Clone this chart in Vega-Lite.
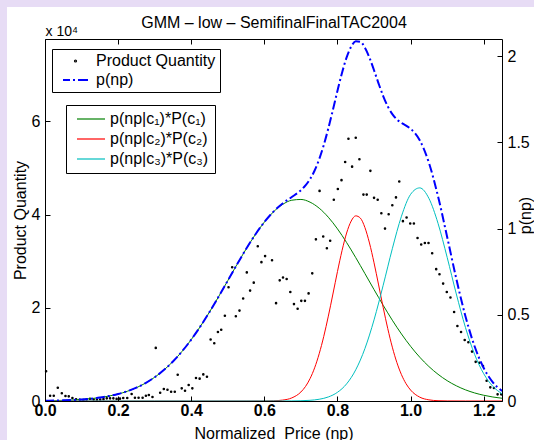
{
  "$schema": "https://vega.github.io/schema/vega-lite/v6.json",
  "width": 457,
  "height": 362,
  "autosize": {"type": "none"},
  "padding": {"left": 45, "top": 39, "right": 32, "bottom": 39},
  "background": "#e7dcf5",
  "config": {
    "font": "Liberation Sans",
    "view": {"stroke": null},
    "axis": {
      "zindex": 1, "grid": false, "domainColor": "black", "domainWidth": 1, "tickColor": "black", "tickWidth": 1,
      "tickSize": -5, "labelColor": "black", "titleColor": "black", "labelFontSize": 16, "titleFontSize": 16,
      "titleFontWeight": "normal", "labelFlush": false, "labelOverlap": false
    },
    "legend": {"labelFontSize": 16, "labelColor": "black", "labelLimit": 0}
  },
  "datasets": {
    "scatter": [
      {"np": 0.003, "qty": 6400}, {"np": 0.014, "qty": 1130}, {"np": 0.024, "qty": 1130}, {"np": 0.035, "qty": 2850},
      {"np": 0.046, "qty": 1650}, {"np": 0.056, "qty": 1070}, {"np": 0.065, "qty": 1000}, {"np": 0.075, "qty": 640},
      {"np": 0.085, "qty": 350}, {"np": 0.095, "qty": 250}, {"np": 0.105, "qty": 200}, {"np": 0.114, "qty": 300},
      {"np": 0.123, "qty": 490}, {"np": 0.133, "qty": 300}, {"np": 0.142, "qty": 250}, {"np": 0.151, "qty": 300},
      {"np": 0.16, "qty": 400}, {"np": 0.169, "qty": 570}, {"np": 0.178, "qty": 570}, {"np": 0.187, "qty": 570},
      {"np": 0.196, "qty": 450}, {"np": 0.205, "qty": 500}, {"np": 0.214, "qty": 640}, {"np": 0.225, "qty": 640},
      {"np": 0.237, "qty": 1500}, {"np": 0.246, "qty": 710}, {"np": 0.256, "qty": 710}, {"np": 0.267, "qty": 710},
      {"np": 0.276, "qty": 1140}, {"np": 0.284, "qty": 1280}, {"np": 0.294, "qty": 860}, {"np": 0.303, "qty": 11400},
      {"np": 0.315, "qty": 1780}, {"np": 0.325, "qty": 2570}, {"np": 0.335, "qty": 2430}, {"np": 0.345, "qty": 2000},
      {"np": 0.355, "qty": 2000}, {"np": 0.363, "qty": 5640}, {"np": 0.374, "qty": 2710}, {"np": 0.383, "qty": 2210},
      {"np": 0.393, "qty": 3430}, {"np": 0.403, "qty": 2710}, {"np": 0.413, "qty": 4950}, {"np": 0.423, "qty": 4800},
      {"np": 0.433, "qty": 5710}, {"np": 0.443, "qty": 5200}, {"np": 0.453, "qty": 13200}, {"np": 0.463, "qty": 12400},
      {"np": 0.473, "qty": 14800}, {"np": 0.482, "qty": 15300}, {"np": 0.492, "qty": 18300}, {"np": 0.502, "qty": 24400},
      {"np": 0.512, "qty": 28700}, {"np": 0.522, "qty": 18200}, {"np": 0.532, "qty": 19400}, {"np": 0.542, "qty": 22000},
      {"np": 0.552, "qty": 27600}, {"np": 0.561, "qty": 23700}, {"np": 0.571, "qty": 25400}, {"np": 0.582, "qty": 33200},
      {"np": 0.592, "qty": 29800}, {"np": 0.602, "qty": 31100}, {"np": 0.621, "qty": 30200}, {"np": 0.632, "qty": 21000},
      {"np": 0.642, "qty": 25900}, {"np": 0.651, "qty": 26500}, {"np": 0.661, "qty": 26200}, {"np": 0.671, "qty": 23400},
      {"np": 0.681, "qty": 20800}, {"np": 0.691, "qty": 19800}, {"np": 0.701, "qty": 21500}, {"np": 0.711, "qty": 21500},
      {"np": 0.721, "qty": 23100}, {"np": 0.731, "qty": 27400}, {"np": 0.741, "qty": 34700}, {"np": 0.751, "qty": 45100},
      {"np": 0.761, "qty": 35300}, {"np": 0.771, "qty": 32800}, {"np": 0.78, "qty": 34400}, {"np": 0.79, "qty": 43200},
      {"np": 0.801, "qty": 45500}, {"np": 0.811, "qty": 47400}, {"np": 0.821, "qty": 51300}, {"np": 0.83, "qty": 56300},
      {"np": 0.84, "qty": 50300}, {"np": 0.85, "qty": 56500}, {"np": 0.86, "qty": 51900}, {"np": 0.871, "qty": 44300},
      {"np": 0.88, "qty": 44300}, {"np": 0.89, "qty": 49400}, {"np": 0.9, "qty": 43600}, {"np": 0.91, "qty": 43200},
      {"np": 0.92, "qty": 40300}, {"np": 0.93, "qty": 37000}, {"np": 0.94, "qty": 40100}, {"np": 0.95, "qty": 42000},
      {"np": 0.96, "qty": 43700}, {"np": 0.969, "qty": 47100}, {"np": 0.979, "qty": 38600}, {"np": 0.989, "qty": 39400},
      {"np": 0.999, "qty": 38100}, {"np": 1.009, "qty": 38100}, {"np": 1.019, "qty": 35000}, {"np": 1.029, "qty": 33600},
      {"np": 1.039, "qty": 33900}, {"np": 1.049, "qty": 33900}, {"np": 1.059, "qty": 31700}, {"np": 1.07, "qty": 28300},
      {"np": 1.079, "qty": 27200}, {"np": 1.089, "qty": 25200}, {"np": 1.099, "qty": 23400}, {"np": 1.109, "qty": 22200},
      {"np": 1.119, "qty": 19100}, {"np": 1.128, "qty": 16100}, {"np": 1.138, "qty": 14800}, {"np": 1.148, "qty": 13100},
      {"np": 1.158, "qty": 12600}, {"np": 1.168, "qty": 10600}, {"np": 1.178, "qty": 8400}, {"np": 1.188, "qty": 8200},
      {"np": 1.198, "qty": 7500}, {"np": 1.208, "qty": 4350}, {"np": 1.218, "qty": 2930}, {"np": 1.228, "qty": 2780},
      {"np": 1.238, "qty": 1430}, {"np": 1.248, "qty": 1430}
    ],
    "comps": [
      {"np": 0, "comp": "p(np|c₁)*P(c₁)", "p": 0.0015}, {"np": 0.025, "comp": "p(np|c₁)*P(c₁)", "p": 0.0024},
      {"np": 0.05, "comp": "p(np|c₁)*P(c₁)", "p": 0.0038}, {"np": 0.075, "comp": "p(np|c₁)*P(c₁)", "p": 0.0059},
      {"np": 0.1, "comp": "p(np|c₁)*P(c₁)", "p": 0.009}, {"np": 0.125, "comp": "p(np|c₁)*P(c₁)", "p": 0.0134},
      {"np": 0.15, "comp": "p(np|c₁)*P(c₁)", "p": 0.0197}, {"np": 0.175, "comp": "p(np|c₁)*P(c₁)", "p": 0.0285},
      {"np": 0.2, "comp": "p(np|c₁)*P(c₁)", "p": 0.0404}, {"np": 0.225, "comp": "p(np|c₁)*P(c₁)", "p": 0.0563},
      {"np": 0.25, "comp": "p(np|c₁)*P(c₁)", "p": 0.0772}, {"np": 0.275, "comp": "p(np|c₁)*P(c₁)", "p": 0.104},
      {"np": 0.3, "comp": "p(np|c₁)*P(c₁)", "p": 0.1378}, {"np": 0.325, "comp": "p(np|c₁)*P(c₁)", "p": 0.1792},
      {"np": 0.35, "comp": "p(np|c₁)*P(c₁)", "p": 0.2294}, {"np": 0.375, "comp": "p(np|c₁)*P(c₁)", "p": 0.2883},
      {"np": 0.4, "comp": "p(np|c₁)*P(c₁)", "p": 0.3563}, {"np": 0.425, "comp": "p(np|c₁)*P(c₁)", "p": 0.4327},
      {"np": 0.45, "comp": "p(np|c₁)*P(c₁)", "p": 0.5164}, {"np": 0.475, "comp": "p(np|c₁)*P(c₁)", "p": 0.6058},
      {"np": 0.5, "comp": "p(np|c₁)*P(c₁)", "p": 0.6985}, {"np": 0.525, "comp": "p(np|c₁)*P(c₁)", "p": 0.7915},
      {"np": 0.55, "comp": "p(np|c₁)*P(c₁)", "p": 0.8814}, {"np": 0.575, "comp": "p(np|c₁)*P(c₁)", "p": 0.9648},
      {"np": 0.6, "comp": "p(np|c₁)*P(c₁)", "p": 1.0379}, {"np": 0.625, "comp": "p(np|c₁)*P(c₁)", "p": 1.0975},
      {"np": 0.65, "comp": "p(np|c₁)*P(c₁)", "p": 1.1404}, {"np": 0.675, "comp": "p(np|c₁)*P(c₁)", "p": 1.1647},
      {"np": 0.7, "comp": "p(np|c₁)*P(c₁)", "p": 1.1692}, {"np": 0.725, "comp": "p(np|c₁)*P(c₁)", "p": 1.1535},
      {"np": 0.75, "comp": "p(np|c₁)*P(c₁)", "p": 1.1185}, {"np": 0.775, "comp": "p(np|c₁)*P(c₁)", "p": 1.066},
      {"np": 0.8, "comp": "p(np|c₁)*P(c₁)", "p": 0.9985}, {"np": 0.825, "comp": "p(np|c₁)*P(c₁)", "p": 0.9192},
      {"np": 0.85, "comp": "p(np|c₁)*P(c₁)", "p": 0.8316}, {"np": 0.875, "comp": "p(np|c₁)*P(c₁)", "p": 0.7394},
      {"np": 0.9, "comp": "p(np|c₁)*P(c₁)", "p": 0.6463}, {"np": 0.925, "comp": "p(np|c₁)*P(c₁)", "p": 0.5552},
      {"np": 0.95, "comp": "p(np|c₁)*P(c₁)", "p": 0.4687}, {"np": 0.975, "comp": "p(np|c₁)*P(c₁)", "p": 0.3889},
      {"np": 1.0, "comp": "p(np|c₁)*P(c₁)", "p": 0.3172}, {"np": 1.025, "comp": "p(np|c₁)*P(c₁)", "p": 0.2542},
      {"np": 1.05, "comp": "p(np|c₁)*P(c₁)", "p": 0.2002}, {"np": 1.075, "comp": "p(np|c₁)*P(c₁)", "p": 0.155},
      {"np": 1.1, "comp": "p(np|c₁)*P(c₁)", "p": 0.1179}, {"np": 1.125, "comp": "p(np|c₁)*P(c₁)", "p": 0.0882},
      {"np": 1.15, "comp": "p(np|c₁)*P(c₁)", "p": 0.0648}, {"np": 1.175, "comp": "p(np|c₁)*P(c₁)", "p": 0.0468},
      {"np": 1.2, "comp": "p(np|c₁)*P(c₁)", "p": 0.0333}, {"np": 1.225, "comp": "p(np|c₁)*P(c₁)", "p": 0.0232},
      {"np": 1.25, "comp": "p(np|c₁)*P(c₁)", "p": 0.0159},

      {"np": 0, "comp": "p(np|c₂)*P(c₂)", "p": 0}, {"np": 0.3, "comp": "p(np|c₂)*P(c₂)", "p": 0},
      {"np": 0.55, "comp": "p(np|c₂)*P(c₂)", "p": 0}, {"np": 0.6, "comp": "p(np|c₂)*P(c₂)", "p": 0.0003},
      {"np": 0.625, "comp": "p(np|c₂)*P(c₂)", "p": 0.0013}, {"np": 0.65, "comp": "p(np|c₂)*P(c₂)", "p": 0.0052},
      {"np": 0.675, "comp": "p(np|c₂)*P(c₂)", "p": 0.0179}, {"np": 0.7, "comp": "p(np|c₂)*P(c₂)", "p": 0.0523},
      {"np": 0.7125, "comp": "p(np|c₂)*P(c₂)", "p": 0.0841}, {"np": 0.725, "comp": "p(np|c₂)*P(c₂)", "p": 0.1299},
      {"np": 0.7375, "comp": "p(np|c₂)*P(c₂)", "p": 0.1925}, {"np": 0.75, "comp": "p(np|c₂)*P(c₂)", "p": 0.2742},
      {"np": 0.7625, "comp": "p(np|c₂)*P(c₂)", "p": 0.3749}, {"np": 0.775, "comp": "p(np|c₂)*P(c₂)", "p": 0.4923},
      {"np": 0.7875, "comp": "p(np|c₂)*P(c₂)", "p": 0.6206}, {"np": 0.8, "comp": "p(np|c₂)*P(c₂)", "p": 0.7512},
      {"np": 0.8125, "comp": "p(np|c₂)*P(c₂)", "p": 0.873}, {"np": 0.825, "comp": "p(np|c₂)*P(c₂)", "p": 0.9744},
      {"np": 0.8375, "comp": "p(np|c₂)*P(c₂)", "p": 1.044}, {"np": 0.85, "comp": "p(np|c₂)*P(c₂)", "p": 1.0741},
      {"np": 0.8625, "comp": "p(np|c₂)*P(c₂)", "p": 1.0611}, {"np": 0.875, "comp": "p(np|c₂)*P(c₂)", "p": 1.0065},
      {"np": 0.8875, "comp": "p(np|c₂)*P(c₂)", "p": 0.9166}, {"np": 0.9, "comp": "p(np|c₂)*P(c₂)", "p": 0.8017},
      {"np": 0.9125, "comp": "p(np|c₂)*P(c₂)", "p": 0.6732}, {"np": 0.925, "comp": "p(np|c₂)*P(c₂)", "p": 0.5427},
      {"np": 0.9375, "comp": "p(np|c₂)*P(c₂)", "p": 0.4201}, {"np": 0.95, "comp": "p(np|c₂)*P(c₂)", "p": 0.3123},
      {"np": 0.9625, "comp": "p(np|c₂)*P(c₂)", "p": 0.2229}, {"np": 0.975, "comp": "p(np|c₂)*P(c₂)", "p": 0.1528},
      {"np": 0.9875, "comp": "p(np|c₂)*P(c₂)", "p": 0.1005}, {"np": 1.0, "comp": "p(np|c₂)*P(c₂)", "p": 0.0635},
      {"np": 1.025, "comp": "p(np|c₂)*P(c₂)", "p": 0.0224}, {"np": 1.05, "comp": "p(np|c₂)*P(c₂)", "p": 0.0067},
      {"np": 1.075, "comp": "p(np|c₂)*P(c₂)", "p": 0.0017}, {"np": 1.1, "comp": "p(np|c₂)*P(c₂)", "p": 0.0004},
      {"np": 1.15, "comp": "p(np|c₂)*P(c₂)", "p": 0}, {"np": 1.25, "comp": "p(np|c₂)*P(c₂)", "p": 0},

      {"np": 0, "comp": "p(np|c₃)*P(c₃)", "p": 0}, {"np": 0.3, "comp": "p(np|c₃)*P(c₃)", "p": 0},
      {"np": 0.6, "comp": "p(np|c₃)*P(c₃)", "p": 0}, {"np": 0.65, "comp": "p(np|c₃)*P(c₃)", "p": 0.0001},
      {"np": 0.675, "comp": "p(np|c₃)*P(c₃)", "p": 0.0005}, {"np": 0.7, "comp": "p(np|c₃)*P(c₃)", "p": 0.0015},
      {"np": 0.725, "comp": "p(np|c₃)*P(c₃)", "p": 0.004}, {"np": 0.75, "comp": "p(np|c₃)*P(c₃)", "p": 0.0101},
      {"np": 0.775, "comp": "p(np|c₃)*P(c₃)", "p": 0.0235}, {"np": 0.8, "comp": "p(np|c₃)*P(c₃)", "p": 0.0504},
      {"np": 0.825, "comp": "p(np|c₃)*P(c₃)", "p": 0.0995}, {"np": 0.85, "comp": "p(np|c₃)*P(c₃)", "p": 0.1812},
      {"np": 0.875, "comp": "p(np|c₃)*P(c₃)", "p": 0.304}, {"np": 0.9, "comp": "p(np|c₃)*P(c₃)", "p": 0.4706},
      {"np": 0.925, "comp": "p(np|c₃)*P(c₃)", "p": 0.6714}, {"np": 0.95, "comp": "p(np|c₃)*P(c₃)", "p": 0.8834},
      {"np": 0.975, "comp": "p(np|c₃)*P(c₃)", "p": 1.0718}, {"np": 1.0, "comp": "p(np|c₃)*P(c₃)", "p": 1.1988},
      {"np": 1.025, "comp": "p(np|c₃)*P(c₃)", "p": 1.2363}, {"np": 1.05, "comp": "p(np|c₃)*P(c₃)", "p": 1.1757},
      {"np": 1.075, "comp": "p(np|c₃)*P(c₃)", "p": 1.0308}, {"np": 1.1, "comp": "p(np|c₃)*P(c₃)", "p": 0.8333},
      {"np": 1.125, "comp": "p(np|c₃)*P(c₃)", "p": 0.6211}, {"np": 1.15, "comp": "p(np|c₃)*P(c₃)", "p": 0.4269},
      {"np": 1.175, "comp": "p(np|c₃)*P(c₃)", "p": 0.2706}, {"np": 1.2, "comp": "p(np|c₃)*P(c₃)", "p": 0.1581},
      {"np": 1.225, "comp": "p(np|c₃)*P(c₃)", "p": 0.0851}, {"np": 1.25, "comp": "p(np|c₃)*P(c₃)", "p": 0.0423}
    ],
    "total": [
      {"np": 0, "p": 0.0015}, {"np": 0.025, "p": 0.0024}, {"np": 0.05, "p": 0.0038}, {"np": 0.075, "p": 0.0059},
      {"np": 0.1, "p": 0.009}, {"np": 0.125, "p": 0.0134}, {"np": 0.15, "p": 0.0197}, {"np": 0.175, "p": 0.0285},
      {"np": 0.2, "p": 0.0404}, {"np": 0.225, "p": 0.0563}, {"np": 0.25, "p": 0.0772}, {"np": 0.275, "p": 0.104},
      {"np": 0.3, "p": 0.1378}, {"np": 0.325, "p": 0.1792}, {"np": 0.35, "p": 0.2294}, {"np": 0.375, "p": 0.2883},
      {"np": 0.4, "p": 0.3563}, {"np": 0.425, "p": 0.4327}, {"np": 0.45, "p": 0.5164}, {"np": 0.475, "p": 0.6058},
      {"np": 0.5, "p": 0.6985}, {"np": 0.525, "p": 0.7915}, {"np": 0.55, "p": 0.8814}, {"np": 0.575, "p": 0.9648},
      {"np": 0.6, "p": 1.0382}, {"np": 0.625, "p": 1.0988}, {"np": 0.65, "p": 1.1457}, {"np": 0.675, "p": 1.1831},
      {"np": 0.7, "p": 1.223}, {"np": 0.7125, "p": 1.2505}, {"np": 0.725, "p": 1.2874}, {"np": 0.7375, "p": 1.3373},
      {"np": 0.75, "p": 1.4028}, {"np": 0.7625, "p": 1.4848}, {"np": 0.775, "p": 1.5818}, {"np": 0.7875, "p": 1.6893},
      {"np": 0.8, "p": 1.8001}, {"np": 0.8125, "p": 1.9046}, {"np": 0.825, "p": 1.9931}, {"np": 0.8375, "p": 2.0558},
      {"np": 0.85, "p": 2.0869}, {"np": 0.8625, "p": 2.0841}, {"np": 0.875, "p": 2.0499}, {"np": 0.8875, "p": 1.9916},
      {"np": 0.9, "p": 1.9186}, {"np": 0.9125, "p": 1.8414}, {"np": 0.925, "p": 1.7693}, {"np": 0.9375, "p": 1.7093},
      {"np": 0.95, "p": 1.6644}, {"np": 0.9625, "p": 1.6337}, {"np": 0.975, "p": 1.6135}, {"np": 0.9875, "p": 1.5974},
      {"np": 1.0, "p": 1.5795}, {"np": 1.025, "p": 1.5129}, {"np": 1.05, "p": 1.3826}, {"np": 1.075, "p": 1.1875},
      {"np": 1.1, "p": 0.9516}, {"np": 1.125, "p": 0.7093}, {"np": 1.15, "p": 0.4917}, {"np": 1.175, "p": 0.3174},
      {"np": 1.2, "p": 0.1914}, {"np": 1.225, "p": 0.1083}, {"np": 1.25, "p": 0.0582}
    ]
  },
  "layer": [
    {
      "data": {"values": [{}]},
      "mark": {"type": "rect", "color": "white"},
      "encoding": {
        "x": {
          "datum": -0.104, "type": "quantitative", "scale": {"domain": [0, 1.25], "nice": false},
          "axis": {
            "zindex": 1, "orient": "top", "domain": false, "ticks": false, "labels": false, "values": [0],
            "title": "GMM – low – SemifinalFinalTAC2004", "titleX": 228.5, "titleY": -12, "titleAlign": "center", "titleBaseline": "alphabetic", "titleAngle": 0
          }
        },
        "x2": {"datum": 1.45},
        "y": {"datum": -0.2, "type": "quantitative", "scale": {"domain": [0, 1], "nice": false}, "axis": null},
        "y2": {"datum": 1.0884}
      }
    },
    {
      "data": {"name": "scatter"},
      "transform": [{"calculate": "'Product Quantity'", "as": "series"}],
      "mark": {"type": "point", "filled": false, "size": 100, "strokeWidth": 1.4, "opacity": 1},
      "encoding": {
        "x": {
          "field": "np", "type": "quantitative", "scale": {"domain": [0, 1.25], "nice": false},
          "axis": {
            "zindex": 1, "orient": "bottom", "values": [0, 0.2, 0.4, 0.6, 0.8, 1, 1.2], "labelFontWeight": "bold", "labelPadding": 6,
            "title": "Normalized\u00a0 Price (np)", "titleX": 228.5, "titleY": 37, "titleBaseline": "alphabetic", "titleAlign": "center"
          }
        },
        "y": {
          "field": "qty", "type": "quantitative", "scale": {"domain": [0, 77700], "nice": false},
          "axis": {
            "zindex": 1, "orient": "left", "values": [0, 20000, 40000, 60000], "labelExpr": "'' + datum.value / 10000", "labelPadding": 10,
            "title": "Product Quantity", "titleX": -20, "titleY": 181, "titleAngle": 270, "titleBaseline": "alphabetic", "titleAlign": "center"
          }
        },
        "color": {
          "field": "series", "type": "nominal",
          "scale": {"domain": ["Product Quantity", "p(np)"], "range": ["black", "blue"]},
          "legend": {"orient": "none", "legendX": 7, "legendY": 10, "title": null, "strokeColor": "black", "fillColor": "white", "padding": 4, "symbolSize": 100, "symbolStrokeWidth": 2, "symbolOffset": 11.5, "labelOffset": 12.5, "rowPadding": 3, "cornerRadius": 0}
        },
        "shape": {
          "field": "series", "type": "nominal",
          "scale": {"domain": ["Product Quantity", "p(np)"], "range": ["M-0.12,0A0.12,0.12,0,1,1,0.12,0A0.12,0.12,0,1,1,-0.12,0Z", "M-2.5,0H-1.1M-0.5,0H-0.1M0.5,0H2.5"]},
          "legend": {"orient": "none", "legendX": 7, "legendY": 10, "title": null, "strokeColor": "black", "fillColor": "white", "padding": 4, "symbolSize": 100, "symbolStrokeWidth": 2, "symbolOffset": 11.5, "labelOffset": 12.5, "rowPadding": 3, "cornerRadius": 0}
        }
      }
    },
    {
      "encoding": {
        "x": {
          "field": "np", "type": "quantitative", "scale": {"domain": [0, 1.25], "nice": false},
          "axis": {
            "zindex": 1, "orient": "top", "values": [0, 0.2, 0.4, 0.6, 0.8, 1, 1.2], "labels": false,
            "title": "x 10⁴", "titleFontSize": 14, "titleX": 0, "titleY": -4, "titleAlign": "left", "titleBaseline": "alphabetic", "titleAngle": 0
          }
        },
        "y": {
          "field": "p", "type": "quantitative", "scale": {"domain": [0, 2.1], "nice": false},
          "axis": {
            "zindex": 1, "orient": "right", "values": [0, 0.5, 1, 1.5, 2], "format": "~g", "labelPadding": 10,
            "title": "p(np)", "titleX": 28, "titleY": 176, "titleAngle": 270, "titleBaseline": "alphabetic", "titleAlign": "center"
          }
        }
      },
      "layer": [
        {
          "data": {"name": "comps"},
          "mark": {"type": "line", "strokeWidth": 1, "interpolate": "monotone"},
          "encoding": {
            "stroke": {
              "field": "comp", "type": "nominal",
              "scale": {"domain": ["p(np|c₁)*P(c₁)", "p(np|c₂)*P(c₂)", "p(np|c₃)*P(c₃)"], "range": ["#008000", "#ff0000", "#00bfbf"]},
              "legend": {"orient": "none", "legendX": 21, "legendY": 66, "title": null, "strokeColor": "black", "fillColor": "white", "padding": 6, "symbolType": "M-2.8,0H2.8", "symbolSize": 100, "symbolStrokeWidth": 1.2, "symbolOffset": 11, "labelOffset": 11, "rowPadding": 4, "cornerRadius": 0}
            }
          }
        },
        {
          "data": {"name": "total"},
          "mark": {"type": "line", "color": "blue", "strokeWidth": 2, "strokeDash": [9, 3, 2, 3], "interpolate": "monotone"}
        }
      ]
    }
  ],
  "resolve": {"scale": {"y": "independent"}, "axis": {"x": "independent", "y": "independent"}}
}
